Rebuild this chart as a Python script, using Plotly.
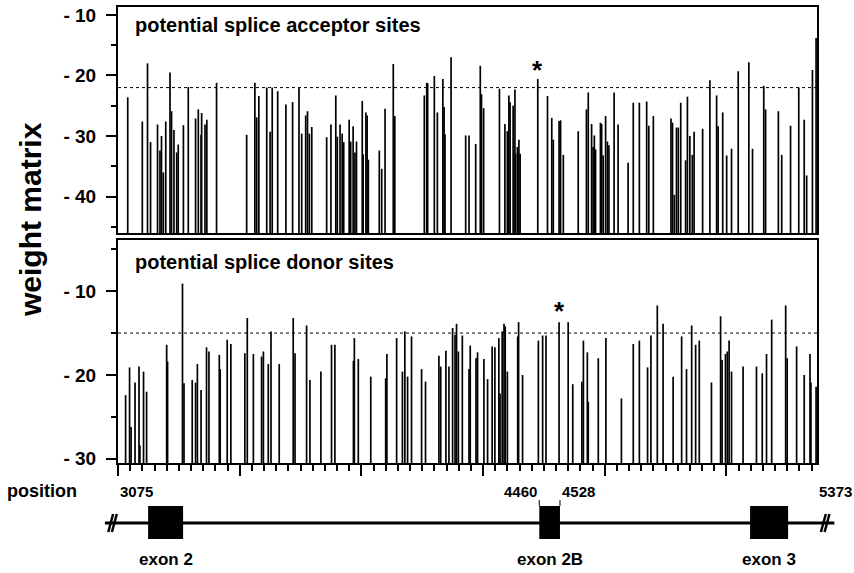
import plotly.graph_objects as go

W, H = 854, 573

# ---------------- data ----------------
acc_pos = [3107, 3155, 3172, 3182, 3205, 3213, 3218, 3224, 3232, 3246, 3251, 3259, 3268, 3273, 3290,
           3306, 3330, 3339, 3348, 3350, 3361, 3367, 3399, 3498, 3525, 3531, 3538, 3564, 3575, 3582,
           3600, 3627, 3649, 3670, 3679, 3692, 3698, 3704, 3712, 3761, 3775, 3791, 3796, 3805, 3812,
           3817, 3835, 3840, 3848, 3854, 3859, 3878, 3881, 3890, 3894, 3898, 3934, 3942, 3953, 3980,
           3985, 4082, 4090, 4093, 4115, 4125, 4143, 4147, 4150, 4170, 4218, 4229, 4251, 4266, 4270,
           4277, 4329, 4347, 4355, 4360, 4364, 4374, 4380, 4382, 4388, 4393, 4397, 4455, 4487, 4501,
           4506, 4525, 4530, 4539, 4588, 4615, 4621, 4632, 4637, 4641, 4645, 4661, 4665, 4670, 4678,
           4684, 4689, 4706, 4719, 4752, 4769, 4789, 4813, 4820, 4835, 4893, 4898, 4904, 4911, 4917,
           4925, 4941, 4947, 4955, 4963, 4969, 4997, 5021, 5043, 5048, 5063, 5076, 5092, 5114, 5149,
           5161, 5198, 5204, 5246, 5257, 5286, 5313, 5331, 5339, 5358, 5370]
acc_val = [-23.6, -27.6, -18.0, -31.0, -28.1, -32.4, -30.0, -36.0, -27.6, -19.5, -25.9, -29.0, -32.7, -31.4, -28.2,
           -21.9, -27.1, -25.6, -29.8, -26.2, -28.1, -27.3, -21.2, -29.8, -21.2, -26.9, -23.4, -22.0, -29.3, -22.0,
           -22.6, -24.8, -24.4, -22.0, -29.6, -26.6, -25.9, -29.6, -28.5, -30.2, -28.1, -23.3, -30.1, -28.1, -29.6,
           -31.0, -27.3, -30.9, -28.4, -32.7, -30.9, -24.2, -33.0, -26.1, -26.6, -33.9, -32.4, -35.4, -25.5, -18.1,
           -26.7, -23.3, -21.2, -21.3, -20.1, -26.1, -20.6, -25.2, -29.7, -17.0, -29.9, -29.9, -31.3, -18.4, -23.1,
           -25.4, -22.2, -28.0, -29.2, -23.3, -24.4, -25.0, -22.3, -32.9, -31.8, -30.6, -32.9, -20.6, -23.4, -27.0,
           -30.6, -27.5, -27.4, -33.1, -29.2, -25.6, -22.8, -28.0, -31.8, -29.9, -32.2, -27.8, -28.0, -33.2, -26.7,
           -30.9, -31.5, -22.8, -28.1, -34.4, -24.5, -24.5, -24.3, -28.3, -26.7, -27.1, -27.8, -39.7, -28.6, -28.6,
           -24.5, -34.0, -23.5, -30.0, -33.1, -29.3, -28.8, -20.8, -23.3, -28.4, -26.1, -33.2, -32.1, -19.3, -17.8,
           -32.1, -21.7, -25.6, -25.9, -33.1, -28.3, -22.0, -27.3, -36.5, -19.1, -13.8]

don_pos = [3100, 3113, 3118, 3131, 3144, 3147, 3159, 3169, 3235, 3238, 3287, 3292, 3319, 3330, 3336,
           3348, 3366, 3374, 3408, 3411, 3434, 3446, 3492, 3500, 3520, 3547, 3553, 3569, 3578, 3605,
           3651, 3657, 3695, 3706, 3742, 3777, 3788, 3849, 3852, 3865, 3906, 3955, 3959, 3991, 4010,
           4018, 4027, 4040, 4073, 4086, 4130, 4136, 4153, 4163, 4175, 4183, 4188, 4194, 4207, 4229,
           4233, 4252, 4257, 4278, 4290, 4305, 4314, 4327, 4331, 4338, 4344, 4348, 4355, 4389, 4392,
           4405, 4457, 4471, 4482, 4525, 4555, 4570, 4600, 4605, 4618, 4621, 4654, 4679, 4730, 4769,
           4789, 4816, 4827, 4848, 4867, 4900, 4928, 4944, 4961, 4974, 4986, 5026, 5056, 5061, 5072,
           5078, 5084, 5092, 5130, 5174, 5193, 5207, 5224, 5270, 5275, 5306, 5331, 5350, 5353, 5370]
don_val = [-22.4, -19.1, -26.2, -20.9, -19.0, -28.4, -19.6, -22.0, -16.4, -18.4, -9.1, -21.0, -20.6, -20.9, -18.7,
           -21.8, -16.7, -17.2, -17.6, -19.3, -15.8, -16.3, -17.4, -13.2, -17.5, -17.8, -17.2, -18.7, -14.8, -18.7,
           -13.2, -17.4, -14.1, -20.6, -19.6, -16.4, -16.4, -18.3, -15.6, -18.1, -20.2, -20.4, -17.5, -15.6, -19.6,
           -14.8, -20.2, -15.4, -19.3, -20.8, -17.7, -19.0, -17.1, -19.0, -14.4, -15.2, -13.9, -17.2, -15.3, -19.3,
           -16.5, -18.0, -17.3, -18.1, -20.5, -16.6, -16.7, -15.6, -22.2, -14.8, -13.9, -14.2, -19.6, -15.4, -13.7,
           -20.0, -15.9, -15.3, -15.3, -13.7, -13.7, -21.1, -20.8, -15.9, -17.3, -23.2, -18.0, -15.6, -22.8, -16.3,
           -15.9, -19.1, -15.3, -11.7, -13.9, -20.2, -15.4, -19.3, -14.1, -16.4, -15.9, -20.9, -13.0, -18.2, -17.5,
           -17.2, -15.9, -19.6, -19.0, -19.0, -19.8, -17.5, -13.4, -11.7, -18.0, -16.6, -20.0, -17.5, -20.9, -21.4]

acc_threshold = -22
don_threshold = -15
acc_star = (4455, -20.6)
don_star = (4525, -13.7)

pos_start, pos_end = 3075, 5373
pos_marks = [4460, 4528]
exon_names = ["exon 2", "exon 2B", "exon 3"]
exon_start = [3174, 4460, 5153]
exon_end = [3289, 4528, 5278]
gene_line = (3032, 5430)

acc_yticks = [-10, -20, -30, -40]
acc_yminor = [-15, -25, -35, -45]
don_yticks = [-10, -20, -30]
don_yminor = [-5, -15, -25]
x_minor = list(range(3075, 5374, 40))
x_major = list(range(3075, 5374, 400))

# ---------------- geometry ----------------
L, R = 118, 817
top_panel = (7, 233)
bot_panel = (240, 463)
acc_range = [-46.0, -8.7]
don_range = [-30.5, -3.9]

def py(y):
    return 1 - y / H

FONT = "Liberation Sans, Arial, Helvetica, sans-serif"

def stems(xs, ys, base):
    X, Y = [], []
    for x, y in zip(xs, ys):
        X += [x, x, None]
        Y += [base, y, None]
    return X, Y

fig = go.Figure()
ax, ay = stems(acc_pos, acc_val, acc_range[0])
fig.add_trace(go.Scatter(x=ax, y=ay, mode="lines", line=dict(color="black", width=1.7),
                         xaxis="x", yaxis="y", hoverinfo="skip", showlegend=False))
dx, dy = stems(don_pos, don_val, don_range[0])
fig.add_trace(go.Scatter(x=dx, y=dy, mode="lines", line=dict(color="black", width=1.7),
                         xaxis="x2", yaxis="y2", hoverinfo="skip", showlegend=False))

k = (pos_end - pos_start) / (R - L)
x3_range = [pos_start - L * k, pos_start + (W - L) * k]

axis_common = dict(showgrid=False, zeroline=False, showline=True, linecolor="black",
                   linewidth=2, mirror=True, automargin=False)
tickfont = dict(family=FONT, size=19, color="black", weight="bold")

fig.update_layout(
    template="none",
    width=W, height=H, margin=dict(l=0, r=0, t=0, b=0, pad=0), autosize=False,
    paper_bgcolor="white", plot_bgcolor="white", showlegend=False,
    xaxis=dict(domain=[L / W, R / W], range=[pos_start, pos_end], showticklabels=False,
               ticks="", anchor="y", **axis_common),
    yaxis=dict(domain=[py(top_panel[1]), py(top_panel[0])], range=acc_range, anchor="x",
               tickvals=acc_yticks, ticktext=["- %d" % abs(v) for v in acc_yticks],
               ticks="outside", ticklen=10, tickwidth=2, tickcolor="black",
               minor=dict(tickvals=acc_yminor, ticks="outside", ticklen=5, tickwidth=2, tickcolor="black"),
               tickfont=tickfont, ticklabelstandoff=6, **axis_common),
    xaxis2=dict(domain=[L / W, R / W], range=[pos_start, pos_end], showticklabels=False,
                anchor="y2", tickvals=x_major, ticks="outside", ticklen=11, tickwidth=1.5,
                tickcolor="black",
                minor=dict(tickvals=x_minor, ticks="outside", ticklen=6, tickwidth=1.5, tickcolor="black"),
                **axis_common),
    yaxis2=dict(domain=[py(bot_panel[1]), py(bot_panel[0])], range=don_range, anchor="x2",
                tickvals=don_yticks, ticktext=["- %d" % abs(v) for v in don_yticks],
                ticks="outside", ticklen=10, tickwidth=2, tickcolor="black",
                minor=dict(tickvals=don_yminor, ticks="outside", ticklen=5, tickwidth=2, tickcolor="black"),
                tickfont=tickfont, ticklabelstandoff=6, **axis_common),
    xaxis3=dict(domain=[0, 1], range=x3_range, visible=False, anchor="y3"),
    yaxis3=dict(domain=[0, 0.02], range=[0, 1], visible=False, anchor="x3"),
)

shapes = []
shapes.append(dict(type="line", xref="x", yref="y", x0=pos_start, x1=pos_end,
                   y0=acc_threshold, y1=acc_threshold, line=dict(color="black", width=1, dash="dot")))
shapes.append(dict(type="line", xref="x2", yref="y2", x0=pos_start, x1=pos_end,
                   y0=don_threshold, y1=don_threshold, line=dict(color="black", width=1, dash="dot")))

line_y = py(523)
shapes.append(dict(type="line", xref="x3", yref="paper", x0=gene_line[0], x1=gene_line[1],
                   y0=line_y, y1=line_y, line=dict(color="black", width=3)))
for s, e in zip(exon_start, exon_end):
    shapes.append(dict(type="rect", xref="x3", yref="paper", x0=s, x1=e, y0=py(539), y1=py(506),
                       fillcolor="black", line=dict(color="black", width=0)))
for xc in [gene_line[0] + 25, gene_line[1] - 30]:
    for off in [-6, 6]:
        xa = xc + off
        shapes.append(dict(type="line", xref="x3", yref="paper", x0=xa - 8, x1=xa + 8,
                           y0=py(532), y1=py(514), line=dict(color="black", width=2.5)))
for p in pos_marks:
    shapes.append(dict(type="line", xref="x3", yref="paper", x0=p, x1=p, y0=py(506), y1=py(500),
                       line=dict(color="black", width=1)))
fig.update_layout(shapes=shapes)

ann = []
bold = lambda s: dict(family=FONT, size=s, color="black", weight="bold")
ann.append(dict(text="potential splice acceptor sites", xref="paper", yref="paper",
                x=133 / W, y=py(25), xanchor="left", yanchor="middle", showarrow=False, font=bold(20)))
ann.append(dict(text="potential splice donor sites", xref="paper", yref="paper",
                x=133 / W, y=py(262), xanchor="left", yanchor="middle", showarrow=False, font=bold(20)))
ann.append(dict(text="weight matrix", xref="paper", yref="paper", x=30 / W, y=py(220),
                textangle=-90, xanchor="center", yanchor="middle", showarrow=False, font=bold(30)))
ann.append(dict(text="*", xref="x", yref="y", x=acc_star[0], y=acc_star[1], yshift=9,
                showarrow=False, font=bold(26)))
ann.append(dict(text="*", xref="x2", yref="y2", x=don_star[0], y=don_star[1], yshift=11,
                showarrow=False, font=bold(26)))
ann.append(dict(text="position", xref="paper", yref="paper", x=5 / W, y=py(491),
                xanchor="left", yanchor="middle", showarrow=False, font=bold(18)))
ann.append(dict(text=str(pos_start), xref="x3", yref="paper", x=pos_start, y=py(491),
                xanchor="left", yanchor="middle", showarrow=False, font=bold(15)))
ann.append(dict(text=str(pos_marks[0]), xref="x3", yref="paper", x=pos_marks[0], y=py(491),
                xanchor="right", yanchor="middle", showarrow=False, font=bold(15)))
ann.append(dict(text=str(pos_marks[1]), xref="x3", yref="paper", x=pos_marks[1], y=py(491),
                xanchor="left", yanchor="middle", showarrow=False, font=bold(15)))
ann.append(dict(text=str(pos_end), xref="x3", yref="paper", x=pos_end, y=py(491),
                xanchor="left", yanchor="middle", showarrow=False, font=bold(15)))
for name, s, e in zip(exon_names, exon_start, exon_end):
    ann.append(dict(text=name, xref="x3", yref="paper", x=(s + e) / 2, y=py(559),
                    xanchor="center", yanchor="middle", showarrow=False, font=bold(17)))
fig.update_layout(annotations=ann)

fig.write_html("out.html", config={"displayModeBar": False},
               post_script="document.body.style.margin='0';document.body.style.padding='0';")
